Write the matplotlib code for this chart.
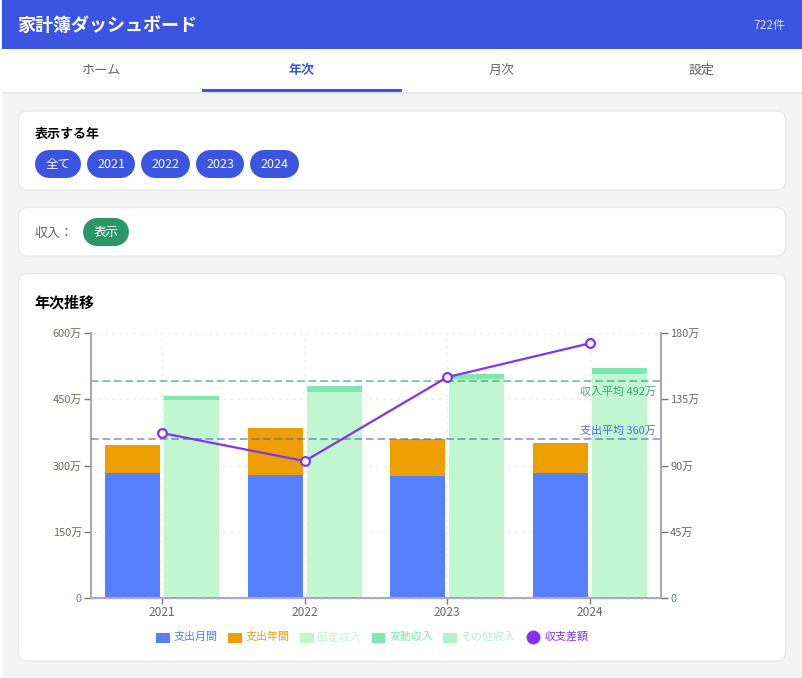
"""Household budget dashboard, yearly tab: page chrome + yearly trend chart."""
import numpy as np
import matplotlib
matplotlib.use('Agg')
import matplotlib.pyplot as plt
from matplotlib.lines import Line2D
from matplotlib.patches import FancyBboxPatch, Patch, Rectangle

plt.rcParams['font.family'] = ['Noto Sans CJK JP', 'DejaVu Sans']

W, H = 803, 678

years = ['2021', '2022', '2023', '2024']
expense_monthly = [282, 278, 276, 282]
expense_annual = [64, 108, 84, 68]
income_fixed = [448, 466, 496, 507]
income_variable = [9, 14, 12, 14]
income_other = [0, 0, 0, 0]
balance = [112, 93, 150, 173]
income_avg = 492
expense_avg = 360

left_ticks = [0, 150, 300, 450, 600]
left_labels = ['0', '150万', '300万', '450万', '600万']
right_ticks = [0, 45, 90, 135, 180]
right_labels = ['0', '45万', '90万', '135万', '180万']

tabs = ['ホーム', '年次', '月次', '設定']
tab_centers = [101.5, 301.5, 502, 702]
year_pills = [('全て', 35, 81), ('2021', 87, 135), ('2022', 141, 190),
              ('2023', 196, 244), ('2024', 250, 299)]

BLUE = '#3b55e0'
GREEN = '#2b9667'
C_MONTHLY = '#5580ff'
C_ANNUAL = '#ee9f00'
C_FIXED = '#c0f6d0'
C_VARIABLE = '#7ee8b0'
C_OTHER = '#aff2cc'
C_BALANCE = '#8233f0'


def fs(px):
    return px * 0.72


def card(ax, x0, y0, x1, y1):
    ax.add_patch(FancyBboxPatch((x0, y0), x1 - x0, y1 - y0,
                                boxstyle='round,pad=0,rounding_size=9',
                                fc='white', ec='#e8e8e8', lw=0.9))


def pill(ax, x0, x1, y0, y1, color, label):
    # thick line with round caps gives a true stadium shape
    r = (y1 - y0) / 2
    yc = (y0 + y1) / 2
    ax.plot([x0 + r, x1 - r], [yc, yc], color=color, lw=fs(y1 - y0), solid_capstyle='round')
    ax.text((x0 + x1) / 2, yc + 0.5, label, color='white', fontsize=fs(12.5),
            ha='center', va='center')


fig = plt.figure(figsize=(W / 100, H / 100), dpi=100, facecolor='white')

# page chrome, drawn in pixel coordinates
ui = fig.add_axes([0, 0, 1, 1])
ui.axis('off')

ui.add_patch(Rectangle((2, 0), W - 2, H, fc='#f4f4f5', ec='none'))
ui.add_patch(Rectangle((2, 0), W - 2, 49, fc=BLUE, ec='none'))
ui.add_patch(Rectangle((2, 49), W - 2, 43, fc='white', ec='none'))
ui.add_patch(Rectangle((2, 92), W - 2, 2, fc='#e6e6ee', ec='none'))
ui.add_patch(Rectangle((202, 89), 200, 3, fc=BLUE, ec='none'))

ui.text(17.5, 25.5, '家計簿ダッシュボード', color='white', fontsize=fs(18), fontweight='bold',
        ha='left', va='center')
ui.text(785, 25.5, '722件', color='#d3daf8', fontsize=fs(12), ha='right', va='center')

for name, cx in zip(tabs, tab_centers):
    active = name == '年次'
    ui.text(cx, 70, name, color=BLUE if active else '#666666', fontsize=fs(13),
            fontweight='bold' if active else 'normal', ha='center', va='center')

card(ui, 18.5, 111, 785.5, 190)
ui.text(34.5, 134, '表示する年', color='black', fontsize=fs(13), fontweight='bold',
        ha='left', va='center')
for label, x0, x1 in year_pills:
    pill(ui, x0, x1, 150, 178, BLUE, label)

card(ui, 18.5, 207.5, 785.5, 256)
ui.text(34.5, 233, '収入：', color='#666666', fontsize=fs(13), ha='left', va='center')
pill(ui, 83, 129, 218, 246, GREEN, '表示')

card(ui, 18.5, 273.5, 785.5, 661)
ui.text(34.5, 302, '年次推移', color='black', fontsize=fs(15), fontweight='bold',
        ha='left', va='center')

ui.set_xlim(0, W)
ui.set_ylim(H, 0)

# chart
ax = fig.add_axes([91 / W, 1 - 598 / H, 570 / W, 265 / H])
ax.patch.set_alpha(0)
x = np.arange(len(years))
bar_w = 55 / 142.5
off = 29.5 / 142.5

monthly = np.array(expense_monthly)
annual = np.array(expense_annual)
fixed = np.array(income_fixed)
variable = np.array(income_variable)
other = np.array(income_other)

ax.set_axisbelow(True)
ax.grid(True, color='#eeeeee', linestyle=(0, (2, 3)), linewidth=1)
ax.bar(x - off, monthly, bar_w, color=C_MONTHLY, zorder=2)
ax.bar(x - off, annual, bar_w, bottom=monthly, color=C_ANNUAL, zorder=2)
ax.bar(x + off, fixed, bar_w, color=C_FIXED, zorder=2)
ax.bar(x + off, variable, bar_w, bottom=fixed, color=C_VARIABLE, zorder=2)
ax.bar(x + off, other, bar_w, bottom=fixed + variable, color=C_OTHER, zorder=2)

ax.set_xlim(-0.5, 3.5)
ax.set_ylim(0, 600)
ax.set_xticks(x, years)
ax.set_yticks(left_ticks, left_labels)
ax.tick_params(axis='x', length=4, width=1, color='#777777', labelcolor='#666666',
               labelsize=fs(12), pad=1.5)
ax.tick_params(axis='y', length=5, width=1, color='#777777', labelcolor='#76695e',
               labelsize=fs(11), pad=1.5)
ax.get_yticklabels()[0].set_color('#5b7bb5')
for side in ['top', 'right']:
    ax.spines[side].set_visible(False)
for side in ['left', 'bottom']:
    ax.spines[side].set_color('#aaaaaa')
    ax.spines[side].set_linewidth(1.5)

dash = (0, (5, 2.5))
ax.axhline(income_avg, color='#2b9667', alpha=0.7, lw=1.1, linestyle=dash, zorder=3)
ax.axhline(expense_avg, color='#4f55e8', alpha=0.7, lw=1.1, linestyle=dash, zorder=3)
ax.axhline(0, color='#b8a8d8', lw=1, linestyle=(0, (3, 2)), zorder=4, clip_on=False)

ax.annotate('収入平均 %d万' % income_avg, xy=(1, income_avg), xycoords=('axes fraction', 'data'),
            xytext=(-3.6, -11.6), textcoords='offset points', ha='right', va='bottom',
            color='#2b9667', alpha=0.85, fontsize=fs(11), zorder=6)
ax.annotate('支出平均 %d万' % expense_avg, xy=(1, expense_avg), xycoords=('axes fraction', 'data'),
            xytext=(-3.6, 2.2), textcoords='offset points', ha='right', va='bottom',
            color='#3b55e0', alpha=0.85, fontsize=fs(11), zorder=6)

axr = ax.twinx()
axr.set_ylim(0, 180)
axr.set_yticks(right_ticks, right_labels)
axr.tick_params(axis='y', length=5, width=1, color='#777777', labelcolor='#666666',
                labelsize=fs(11), pad=1.5)
axr.get_yticklabels()[0].set_color('#5b7bb5')
for side in ['top', 'left', 'bottom']:
    axr.spines[side].set_visible(False)
axr.spines['right'].set_color('#aaaaaa')
axr.spines['right'].set_linewidth(1.5)
axr.plot(x, balance, color=C_BALANCE, lw=1.6, marker='o', ms=6.3, mfc='white', mec=C_BALANCE,
         mew=1.6, zorder=5, clip_on=False)

handles = [Patch(fc=C_MONTHLY), Patch(fc=C_ANNUAL), Patch(fc=C_FIXED), Patch(fc=C_VARIABLE),
           Patch(fc=C_OTHER),
           Line2D([], [], color='none', marker='o', ms=10, mfc=C_BALANCE, mec='none')]
names = ['支出月間', '支出年間', '固定収入', '変動収入', 'その他収入', '収支差額']
leg = fig.legend(handles, names, ncol=6, loc='center', bbox_to_anchor=(372 / W, 1 - 637 / H),
                 frameon=False, fontsize=fs(11), handlelength=1.27, handleheight=1.0,
                 handletextpad=0.36, columnspacing=0.91, borderpad=0, borderaxespad=0,
                 labelcolor=[C_MONTHLY, C_ANNUAL, C_FIXED, C_VARIABLE, C_OTHER, C_BALANCE])
# swatches sit a little below the text
for h in leg.legend_handles[:5]:
    h.set_y(h.get_y() - 1.4)
    h.set_height(7.5)
marker = leg.legend_handles[5]
marker.set_ydata(np.asarray(marker.get_ydata()) - 0.8)
leg.get_texts()[5].set_position((0, 0.7))

fig.savefig('out.png', dpi=100, facecolor='white')
plt.close(fig)
